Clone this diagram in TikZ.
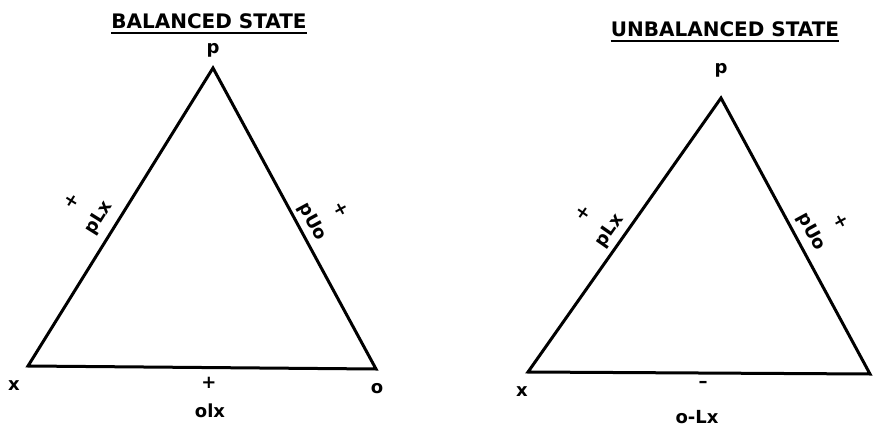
\documentclass[tikz,border=0pt]{standalone}
\usepackage{fontspec}
\setmainfont{DejaVu Sans}
\begin{document}
\begin{tikzpicture}[x=1pt,y=-1pt,
  edge/.style={line width=3pt, line join=miter},
  lbl/.style={font=\fontsize{18}{18}\selectfont\bfseries, inner sep=0pt},
  ttl/.style={font=\fontsize{20}{20}\selectfont\bfseries, inner sep=0pt},
  uline/.style={line width=1.8pt}]
\useasboundingbox (0,0) rectangle (875,428);
% left triangle
\coordinate (LP) at (213,68);
\coordinate (LX) at (28,366);
\coordinate (LO) at (376,369);
\draw[edge] (LP) -- (LX) -- (LO) -- cycle;
\node[ttl] (t1) at (209,21) {BALANCED STATE};
\draw[uline] ([yshift=-5pt]t1.base west) -- ([yshift=-5pt]t1.base east);
\node[lbl] (lp) at (213,50) {p};
\node[lbl] (lx) at (14,386) {x};
\node[lbl] (lo) at (377,389) {o};
\node[lbl] (lb) at (209,383) {+};
\node[lbl] (lbt) at (210,411) {olx};
\node[lbl, rotate=58] (lpl) at (99,218) {pLx};
\node[lbl, rotate=58] (lplp) at (72,201) {+};
\node[lbl, rotate=-61.5] (lpu) at (312,222) {pUo};
\node[lbl, rotate=-61.5] (lpup) at (341,209) {+};
% right triangle
\coordinate (RP) at (721,98);
\coordinate (RX) at (528,372);
\coordinate (RO) at (870,374);
\draw[edge] (RP) -- (RX) -- (RO) -- cycle;
\node[ttl] (t2) at (725,29) {UNBALANCED STATE};
\draw[uline] ([yshift=-5pt]t2.base west) -- ([yshift=-5pt]t2.base east);
\node[lbl] (rp) at (721,70) {p};
\node[lbl] (rx) at (522,392) {x};
\node[lbl] (rb) at (703,384) {–};
\node[lbl] (rbt) at (697,417) {o-Lx};
\node[lbl, rotate=55] (rpl) at (610,231) {pLx};
\node[lbl, rotate=55] (rplp) at (583,213) {+};
\node[lbl, rotate=-61.5] (rpu) at (811,232) {pUo};
\node[lbl, rotate=-61.5] (rpup) at (841,221) {+};
\end{tikzpicture}
\end{document}
